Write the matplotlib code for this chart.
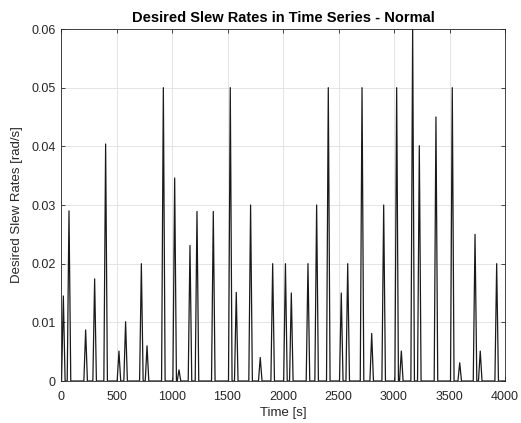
import numpy as np
import matplotlib.pyplot as plt

plt.rcParams['font.family'] = ['Liberation Sans', 'DejaVu Sans']

# peak times [s] and peak slew rates [rad/s]
peak_t = [21, 72, 222, 303, 402, 522, 582, 724, 775, 922, 1024, 1063,
          1162, 1225, 1372, 1525, 1579, 1708, 1795, 1907, 2022, 2075,
          2225, 2303, 2408, 2525, 2583, 2712, 2799, 2907, 3024, 3066,
          3168, 3228, 3378, 3525, 3592, 3730, 3777, 3925]
peak_v = [0.0145, 0.029, 0.0087, 0.0174, 0.0404, 0.0051, 0.0101, 0.020,
          0.0060, 0.050, 0.0346, 0.0019, 0.0231, 0.0289, 0.0289, 0.050,
          0.0151, 0.030, 0.0040, 0.020, 0.020, 0.015, 0.020, 0.030,
          0.050, 0.015, 0.020, 0.050, 0.0081, 0.030, 0.050, 0.0051,
          0.060, 0.0401, 0.045, 0.050, 0.0031, 0.025, 0.0051, 0.020]

# build the time series as triangular pulses
hw = 16
t = [0]
v = [0]
for tp, vp in zip(peak_t, peak_v):
    t += [max(tp - hw, 0), tp, tp + hw]
    v += [0, vp, 0]
t.append(4000)
v.append(0)

fig = plt.figure(figsize=(5.21, 4.23), dpi=100)
ax = fig.add_axes([61/521, 1 - 381/423, 444/521, 352/423])
ax.plot(t, v, color='#1a1a1a', lw=0.9)

ax.set_xlim(0, 4000)
ax.set_ylim(0, 0.06)
ax.set_xticks(np.arange(0, 4001, 500))
ax.set_yticks(np.arange(0, 0.061, 0.01))
ax.set_yticklabels(['0', '0.01', '0.02', '0.03', '0.04', '0.05', '0.06'])
ax.grid(True, color='#e0e0e0', lw=0.6)
ax.tick_params(direction='in', top=True, right=True, labelsize=9,
               colors='#262626', length=3, width=0.6, pad=4)
ax.tick_params(axis='x', pad=7)
for s in ax.spines.values():
    s.set_color('#262626')
    s.set_linewidth(0.6)

ax.set_xlabel('Time [s]', fontsize=9.5, color='#262626', labelpad=3)
ax.set_ylabel('Desired Slew Rates [rad/s]', fontsize=9.5, color='#262626', labelpad=6)
ax.set_title('Desired Slew Rates in Time Series - Normal', fontsize=10.5,
             fontweight='bold', pad=5)

fig.savefig('out.png', dpi=100)
